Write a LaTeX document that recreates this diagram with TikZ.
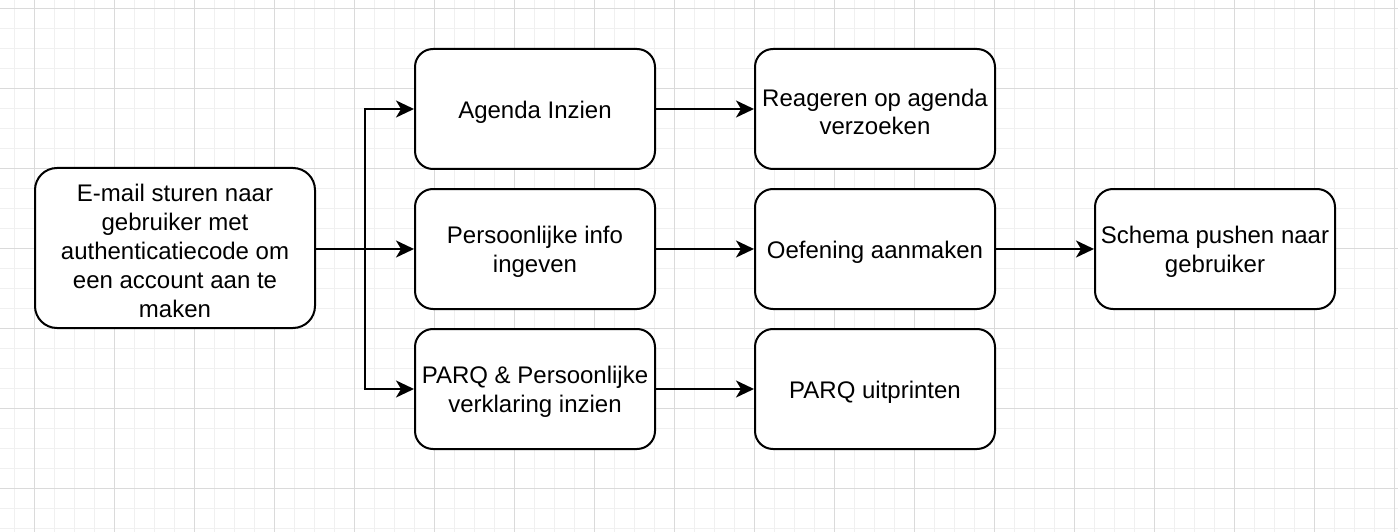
\documentclass[tikz,border=0pt]{standalone}
\usepackage{fontspec}
\setmainfont{Liberation Sans}
\usetikzlibrary{arrows.meta}
\definecolor{gridminor}{HTML}{F0F0F0}
\definecolor{gridmajor}{HTML}{DADADA}
\tikzset{
  txt/.style={inner sep=0pt, align=center, yshift=-3pt,
    font=\fontsize{24}{28.8}\selectfont},
  box/.style={draw=black, line width=2pt, rounded corners=18pt, fill=white,
    minimum width=240pt, minimum height=120pt, inner sep=0pt},
  bigbox/.style={box, minimum width=280pt, minimum height=160pt, rounded corners=22pt},
  conn/.style={draw=black, line width=2pt, -{Stealth[length=18pt, width=17pt, inset=5pt]}},
  plain/.style={draw=black, line width=2pt}
}
\begin{document}
\begin{tikzpicture}[x=1pt, y=-1pt]
\useasboundingbox (0,0) rectangle (1398,532);
\fill[white] (0,0) rectangle (1398,532);
% minor grid
\foreach \i in {0,...,70} {
  \draw[gridminor, line width=1pt] ({14.3+20*\i},0) -- ({14.3+20*\i},532);
}
\foreach \j in {0,...,26} {
  \draw[gridminor, line width=1pt] (0,{8.3+20*\j}) -- (1398,{8.3+20*\j});
}
% major grid
\foreach \i in {0,...,17} {
  \draw[gridmajor, line width=1pt] ({34.3+80*\i},0) -- ({34.3+80*\i},532);
}
\foreach \j in {0,...,6} {
  \draw[gridmajor, line width=1pt] (0,{8.3+80*\j}) -- (1398,{8.3+80*\j});
}
% nodes
\node[bigbox, label={[txt]center:{E-mail sturen naar\\gebruiker met\\authenticatiecode om\\een account aan te\\maken}}] (email) at (175,248) {};
\node[box, label={[txt]center:{Agenda Inzien}}] (agenda) at (535,109) {};
\node[box, label={[txt]center:{Persoonlijke info\\ingeven}}] (info) at (535,249) {};
\node[box, label={[txt]center:{PARQ \& Persoonlijke\\verklaring inzien}}] (parq) at (535,389) {};
\node[box, label={[txt]center:{Reageren op agenda\\verzoeken}}] (reageren) at (875,109) {};
\node[box, label={[txt]center:{Oefening aanmaken}}] (oefening) at (875,249) {};
\node[box, label={[txt]center:{PARQ uitprinten}}] (print) at (875,389) {};
\node[box, label={[txt]center:{Schema pushen naar\\gebruiker}}] (schema) at (1215,249) {};
% connectors
\coordinate (split) at (365,249);
\draw[plain] (email.east |- split) -- (split);
\draw[conn] (split) -- (info.west);
\draw[conn] (split) |- (agenda.west);
\draw[conn] (split) |- (parq.west);
\draw[conn] (agenda) -- (reageren);
\draw[conn] (info) -- (oefening);
\draw[conn] (parq) -- (print);
\draw[conn] (oefening) -- (schema);
\end{tikzpicture}
\end{document}
